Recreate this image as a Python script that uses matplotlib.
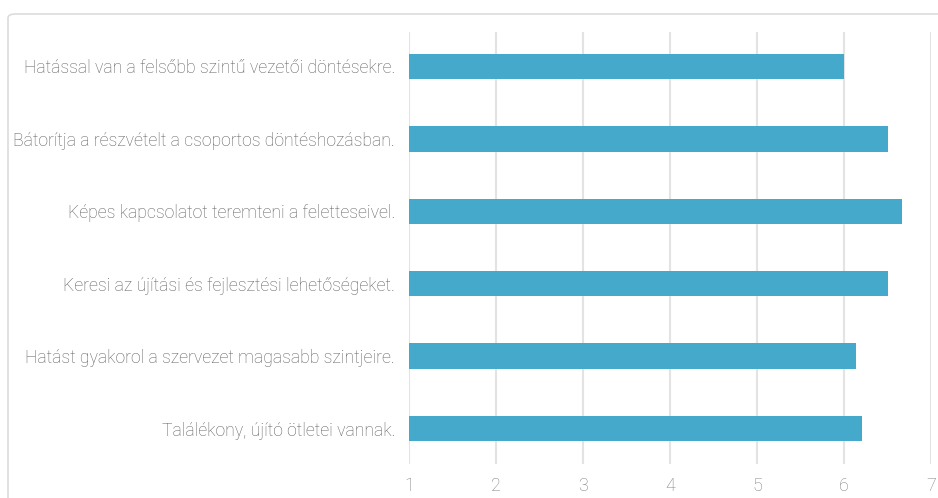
import matplotlib
matplotlib.use("Agg")
import matplotlib.pyplot as plt
from matplotlib.patches import FancyBboxPatch

categories = [
    "Hatással van a felsőbb szintű vezetői döntésekre.",
    "Bátorítja a részvételt a csoportos döntéshozásban.",
    "Képes kapcsolatot teremteni a feletteseivel.",
    "Keresi az újítási és fejlesztési lehetőségeket.",
    "Hatást gyakorol a szervezet magasabb szintjeire.",
    "Találékony, újító ötletei vannak.",
]
values = [6.0, 6.51, 6.67, 6.51, 6.14, 6.21]
x_ticks = [1, 2, 3, 4, 5, 6, 7]

W, H, DPI = 938, 498, 100
fig = plt.figure(figsize=(W / DPI, H / DPI), dpi=DPI)
fig.patch.set_facecolor("white")

# outer card border
border = FancyBboxPatch((8 / W, -0.2), 1.2, (H - 14) / H + 0.2,
                        boxstyle="round,pad=0,rounding_size=0.008",
                        transform=fig.transFigure, facecolor="none",
                        edgecolor="#dcdcdc", linewidth=1.2)
fig.patches.append(border)

ax = fig.add_axes([409 / W, 34 / H, 522 / W, 432.3 / H])
font = ["Roboto", "DejaVu Sans"]

y = list(range(len(categories)))
ax.barh(y, [v - 1 for v in values], left=1, height=0.35,
        color="#45a9cb", zorder=3)

ax.set_xlim(1, 7)
ax.set_ylim(len(categories) - 0.51, -0.48)
ax.set_xticks(x_ticks)
ax.set_xticklabels([str(t) for t in x_ticks], family=font, fontweight="light",
                   fontsize=13, color="#808080")
ax.tick_params(axis="x", length=0, pad=9)
ax.set_yticks(y)
ax.set_yticklabels(categories, family=font, fontweight="light",
                   fontsize=12.7, color="#606060")
ax.tick_params(axis="y", length=0, pad=10)

ax.grid(axis="x", color="#e3e3e3", linewidth=1.5, zorder=0)
ax.grid(axis="y", visible=False)
for s in ax.spines.values():
    s.set_visible(False)

fig.savefig("out.png", dpi=DPI, facecolor="white")
